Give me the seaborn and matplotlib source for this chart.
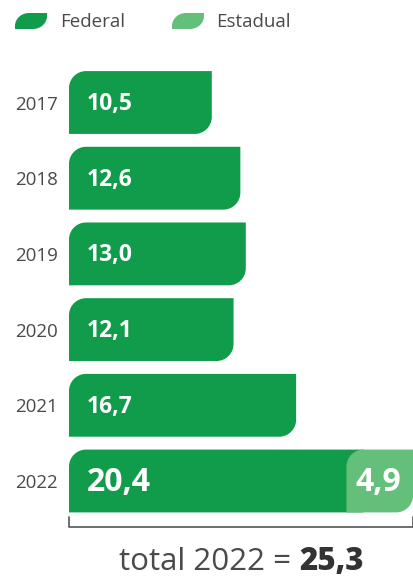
import numpy as np
import matplotlib
matplotlib.use("Agg")
import matplotlib.pyplot as plt
from matplotlib.path import Path
from matplotlib.patches import PathPatch
import seaborn as sns

# dados (bilhões)
years = ["2017", "2018", "2019", "2020", "2021", "2022"]
federal = [10.5, 12.6, 13.0, 12.1, 16.7, 20.4]
estadual = [0, 0, 0, 0, 0, 4.9]
legend_labels = ["Federal", "Estadual"]

DARK = "#109c4a"
LIGHT = "#63bf7a"
GRAY = "#4a4a4a"

W, H = 414, 578
PX_PER_UNIT = 13.6
ROW_PX = 75.7


def fmt(v):
    return f"{v:.1f}".replace(".", ",")


def leaf_path(x0, y0, x1, y1, rx, ry, round_br=True):
    # y0 = topo visual, y1 = base visual (eixo invertido)
    k = 0.5523
    sy = 1 if y1 > y0 else -1
    verts = [(x0, y1), (x0, y0 + sy * ry),
             (x0, y0 + sy * ry * (1 - k)), (x0 + rx * (1 - k), y0), (x0 + rx, y0),
             (x1, y0)]
    codes = [Path.MOVETO, Path.LINETO,
             Path.CURVE4, Path.CURVE4, Path.CURVE4,
             Path.LINETO]
    if round_br:
        verts += [(x1, y1 - sy * ry),
                  (x1, y1 - sy * ry * (1 - k)), (x1 - rx * (1 - k), y1), (x1 - rx, y1)]
        codes += [Path.LINETO, Path.CURVE4, Path.CURVE4, Path.CURVE4]
    else:
        verts += [(x1, y1)]
        codes += [Path.LINETO]
    verts += [(x0, y1)]
    codes += [Path.CLOSEPOLY]
    return Path(verts, codes)


sns.set_style("white")
plt.rcParams["font.family"] = ["Open Sans", "DejaVu Sans"]

fig = plt.figure(figsize=(W / 100, H / 100), dpi=100)
ax = fig.add_axes([69 / W, 1 - 520 / H, 345 / W, 460 / H])

sns.barplot(x=federal, y=years, orient="h", color=DARK, saturation=1,
            width=0.83, ax=ax)
ax.barh(5, estadual[5], left=federal[5], height=0.83, color=LIGHT)

rx = 17 / PX_PER_UNIT
ry = 17 / ROW_PX
for p in list(ax.patches):
    x, y = p.get_x(), p.get_y()
    w, h = p.get_width(), p.get_height()
    if w <= 0:
        p.remove()
        continue
    color = p.get_facecolor()
    idx = int(round(y + h / 2))
    is_fed = not (x > 0)
    p.remove()
    if is_fed and estadual[idx] > 0:
        path = leaf_path(x, y, x + w + rx, y + h, rx, ry, round_br=False)
        z = 2
    else:
        path = leaf_path(x, y, x + w, y + h, rx, ry)
        z = 3
    ax.add_patch(PathPatch(path, facecolor=color, edgecolor="none", zorder=z))

# rótulos de valor
for i, v in enumerate(federal):
    big = estadual[i] > 0
    ax.text(1.3, i + 0.02, fmt(v), color="white", fontweight="bold",
            fontsize=23 if big else 16.5, va="center", ha="left", zorder=5)
    if big:
        tot = v + estadual[i]
        ax.text(tot - 0.84, i + 0.02, fmt(estadual[i]), color="white",
                fontweight="bold", fontsize=23, va="center", ha="right", zorder=5)

ax.set_xlim(0, 345 / PX_PER_UNIT)
ax.set_ylim((520 - 102.5) / ROW_PX, (60 - 102.5) / ROW_PX)
ax.set_xticks([])
ax.set_xlabel("")
ax.set_ylabel("")
ax.tick_params(axis="y", length=0, pad=8, labelsize=13.5, labelcolor=GRAY)
sns.despine(ax=ax, left=True, bottom=True)

# chave do total de 2022
total = federal[5] + estadual[5]
yb = (527 - 102.5) / ROW_PX
yt = (517 - 102.5) / ROW_PX
ax.plot([0, 0, total, total], [yt, yb, yb, yt], color="#555555", lw=1.2,
        clip_on=False)

fig.text(291 / W, 1 - 570 / H, "total 2022 =", ha="right", va="baseline",
         fontsize=22.5, color=GRAY)
fig.text(299 / W, 1 - 570 / H, fmt(total), ha="left", va="baseline",
         fontsize=22.5, fontweight="heavy", color="#333333")

# legenda
for (lx0, lx1, tx), lab, col in zip([(15, 47, 60), (172, 204, 216)],
                                    legend_labels, [DARK, LIGHT]):
    lp = leaf_path(lx0 / W, 1 - 13 / H, lx1 / W, 1 - 29 / H,
                   14 / W, 13 / H)
    fig.add_artist(PathPatch(lp, facecolor=col, edgecolor="none",
                             transform=fig.transFigure))
    fig.text(tx / W, 1 - 22 / H, lab, ha="left", va="center", fontsize=13.5,
             color=GRAY)

fig.savefig("out.png", dpi=100)
